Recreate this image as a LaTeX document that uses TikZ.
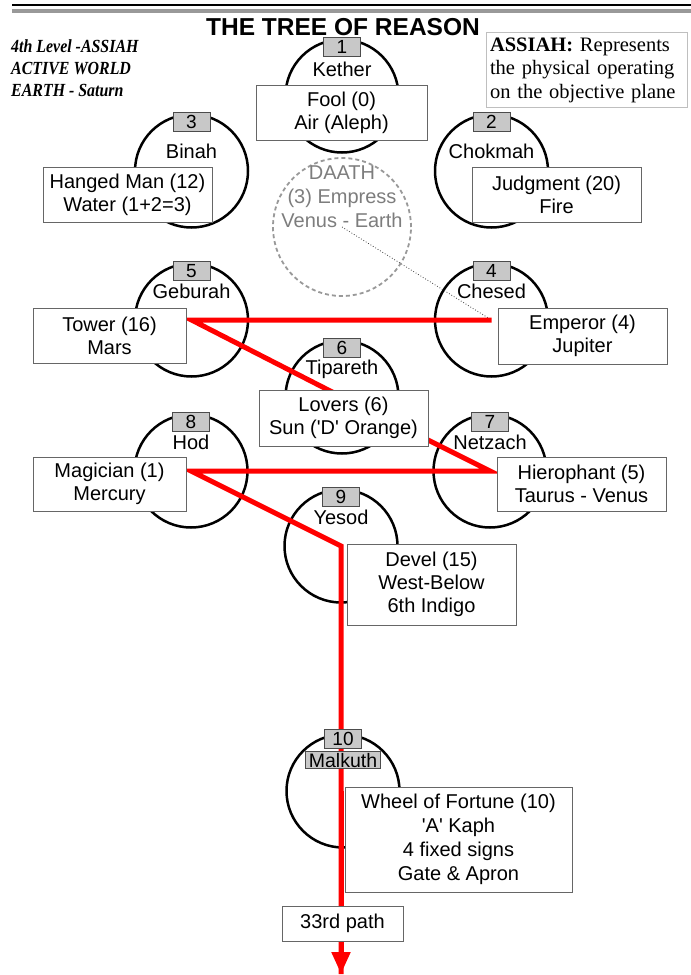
\documentclass[tikz,border=0pt]{standalone}
\usepackage{fontspec}
\setmainfont{Liberation Sans}
\newfontfamily\timesfont{Liberation Serif}
\newfontfamily\narrowtimes[FakeStretch=0.86]{Liberation Serif}
\usepackage{tikz}
\usepackage{xcolor}
\usetikzlibrary{positioning,arrows.meta}

\definecolor{numgray}{RGB}{200,200,200}
\definecolor{daathgray}{RGB}{125,125,125}
\definecolor{pathred}{RGB}{255,0,0}

\begin{document}
\begin{tikzpicture}[x=1pt,y=-1pt]
\tikzstyle{every node}+=[inner sep=0pt]
\tikzstyle{sephira}=[circle, draw=black, line width=2.5pt, minimum size=113pt]
\tikzstyle{numbox}=[draw=black!70, fill=numgray, line width=0.8pt, minimum width=37pt, minimum height=19pt, font=\fontsize{19}{19}\selectfont]
\tikzstyle{sephname}=[font=\fontsize{20}{23}\selectfont]
\tikzstyle{cardbox}=[draw=black!60, fill=white, line width=1pt, align=center, font=\fontsize{20}{23}\selectfont]
\tikzstyle{redpath}=[draw=pathred, line width=5pt]
\useasboundingbox (0,0) rectangle (691,975);
% header
\draw [black, line width=2.5pt] (12,5) -- (691,5);
\draw [black!40, line width=3.5pt] (12,11) -- (691,11);
\node [font=\bfseries\fontsize{24.5}{26}\selectfont] (title) at (343,27) {THE TREE OF REASON};
\node [anchor=west, align=left, font=\narrowtimes\bfseries\itshape\fontsize{18.5}{22}\selectfont] (levelnote) at (11,68) {4th Level -ASSIAH\\ACTIVE WORLD\\EARTH - Saturn};
\node [draw=black!25, line width=1pt, minimum width=201pt, minimum height=75pt, inner xsep=4pt, text width=193pt, align=left, font=\timesfont\fontsize{20.5}{23.5}\selectfont] (assiah) at (586.5,70) {\textbf{ASSIAH:} Represents\\the physical operating\\on the objective plane};
% sephiroth
\node [sephira] (kether) at (342,96) {};
\node [sephira] (binah) at (191.5,171) {};
\node [sephira] (chokmah) at (491.5,171) {};
\node [sephira] (geburah) at (191.5,320) {};
\node [sephira] (chesed) at (491.5,320) {};
\node [sephira] (tiphareth) at (342,397) {};
\node [sephira] (hod) at (191,471) {};
\node [sephira] (netzach) at (490,471) {};
\node [sephira] (yesod) at (341,546) {};
\node [sephira] (malkuth) at (343,791) {};
\node [circle, draw=black!40, dash pattern=on 4pt off 3pt, line width=1.8pt, minimum size=138pt] (daath) at (342,227) {};
\node [align=center, text=daathgray, font=\fontsize{20}{24}\selectfont] (daathlabel) at (342,197) {DAATH\\(3) Empress\\Venus - Earth};
\draw [black!75, dotted, line width=0.8pt] (daath.center) -- (chesed.center);
% the path
\coordinate (pathend) at (341,974);
\draw [redpath] (chesed.center) -- (geburah.center) -- (tiphareth.center) -- (netzach.center) -- (hod.center) -- (yesod.center) -- (pathend);
\draw [redpath, -{Triangle[width=18pt,length=22pt]}] (malkuth.center -| pathend) -- (pathend);
% numbers and names
\node [numbox] (n1) at ([yshift=-9pt]kether.north) {1};
\node [sephname, below=5pt of n1] (kethername) {Kether};
\node [numbox] (n3) at ([yshift=-9pt]binah.north) {3};
\node [sephname, below=12pt of n3] (binahname) {Binah};
\node [numbox] (n2) at ([yshift=-9pt]chokmah.north) {2};
\node [sephname, below=12pt of n2] (chokmahname) {Chokmah};
\node [numbox] (n5) at ([yshift=-9pt]geburah.north) {5};
\node [sephname, below=3pt of n5] (geburahname) {Geburah};
\node [numbox] (n4) at ([yshift=-9pt]chesed.north) {4};
\node [sephname, below=3pt of n4] (chesedname) {Chesed};
\node [numbox] (n6) at ([yshift=-9pt]tiphareth.north) {6};
\node [sephname, below=2pt of n6] (tipharethname) {Tipareth};
\node [numbox] (n8) at ([yshift=-9pt]hod.north) {8};
\node [sephname, below=3pt of n8] (hodname) {Hod};
\node [numbox] (n7) at ([yshift=-9pt]netzach.north) {7};
\node [sephname, below=3pt of n7] (netzachname) {Netzach};
\node [numbox] (n9) at ([yshift=-9pt]yesod.north) {9};
\node [sephname, below=3pt of n9] (yesodname) {Yesod};
\node [numbox] (n10) at ([yshift=-6pt]malkuth.north) {10};
\node [numbox, below=2pt of n10, minimum height=17pt, inner xsep=3pt, font=\fontsize{19.5}{20}\selectfont] (malkuthname) {Malkuth};
% cards
\node [cardbox, minimum width=171pt, minimum height=55pt] (fool) at (341.5,112.5) {Fool (0)\\Air (Aleph)};
\node [cardbox, minimum width=169pt, minimum height=55pt] (hangedman) at (127.5,194.5) {Hanged Man (12)\\Water (1+2=3)};
\node [cardbox, minimum width=169pt, minimum height=55pt] (judgment) at (556.5,194.5) {Judgment (20)\\Fire};
\node [cardbox, minimum width=153pt, minimum height=55pt] (tower) at (109.5,335.5) {Tower (16)\\Mars};
\node [cardbox, minimum width=169pt, minimum height=56pt] (emperor) at (582.5,336) {Emperor (4)\\Jupiter};
\node [cardbox, minimum width=169pt, minimum height=56pt] (lovers) at (343.5,418) {Lovers (6)\\Sun (\textquotesingle D\textquotesingle\ Orange)};
\node [cardbox, minimum width=153pt, minimum height=54pt] (magician) at (109.5,484) {Magician (1)\\Mercury};
\node [cardbox, minimum width=169pt, minimum height=54pt] (hierophant) at (581.5,484) {Hierophant (5)\\Taurus - Venus};
\node [cardbox, minimum width=169pt, minimum height=81pt] (devel) at (431.5,584.5) {Devel (15)\\West-Below\\6th Indigo};
\node [cardbox, minimum width=227pt, minimum height=105pt, font=\fontsize{20}{24}\selectfont] (wheel) at (458.5,839.5) {Wheel of Fortune (10)\\\textquotesingle A\textquotesingle\ Kaph\\4 fixed signs\\Gate \& Apron};
\node [cardbox, minimum width=121pt, minimum height=35pt] (pathlabel) at (342.5,923.5) {33rd path};
\end{tikzpicture}
\end{document}
